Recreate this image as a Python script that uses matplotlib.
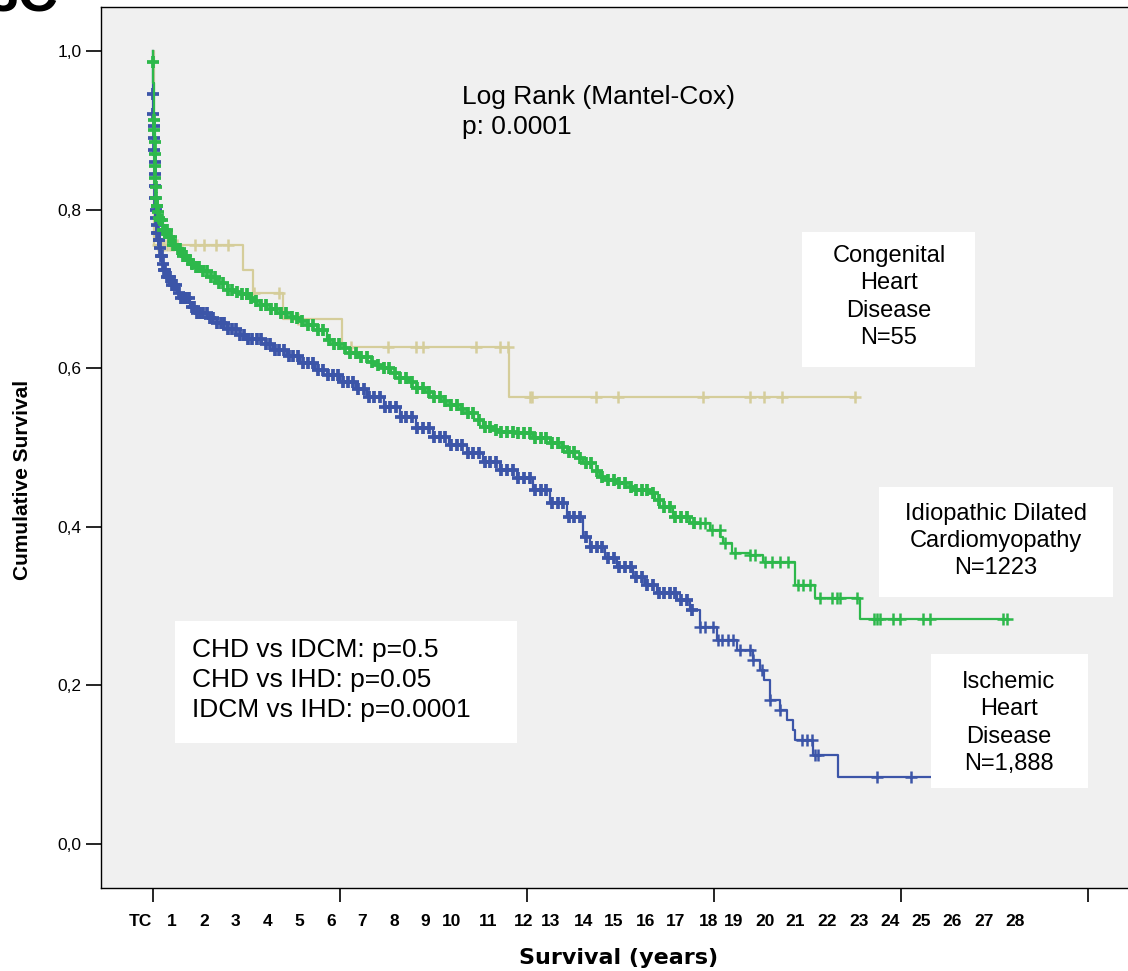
import numpy as np
import matplotlib
matplotlib.use('Agg')
import matplotlib.pyplot as plt
from matplotlib.patches import Rectangle
from matplotlib import font_manager

plt.rcParams['font.family'] = ['Liberation Sans', 'DejaVu Sans']

# Kaplan-Meier steps (years, cumulative survival)
ihd_t = [0, 0.008, 0.015, 0.02, 0.03, 0.04, 0.05, 0.06, 0.07, 0.08,
         0.09, 0.10, 0.12, 0.14, 0.18, 0.22, 0.26, 0.30, 0.36, 0.45,
         0.60, 0.77, 0.90, 1.19, 1.41, 1.73, 2.05, 2.37, 2.79, 3.02,
         3.50, 3.85, 4.30, 4.72, 5.20, 5.58, 6.00, 6.50, 6.87, 7.40,
         7.92, 8.45, 8.98, 9.50, 10.07, 10.60, 11.13, 11.68, 12.20, 12.74,
         13.28, 13.80, 14.02, 14.50, 14.89, 15.40, 15.80, 16.17, 16.81, 17.23,
         17.55, 18.10, 18.74, 19.25, 19.47, 19.60, 19.79, 20.12, 20.34, 20.53,
         20.60, 21.17, 21.98]
ihd_s = [1.0, 0.946, 0.92, 0.905, 0.89, 0.875, 0.86, 0.845, 0.83, 0.815,
         0.80, 0.79, 0.78, 0.77, 0.762, 0.752, 0.742, 0.732, 0.724, 0.715,
         0.705, 0.695, 0.688, 0.677, 0.670, 0.663, 0.657, 0.650, 0.642, 0.637,
         0.630, 0.623, 0.615, 0.607, 0.598, 0.591, 0.583, 0.574, 0.564, 0.551,
         0.538, 0.525, 0.513, 0.503, 0.493, 0.482, 0.472, 0.462, 0.447, 0.430,
         0.412, 0.387, 0.375, 0.361, 0.349, 0.337, 0.326, 0.317, 0.308, 0.295,
         0.274, 0.257, 0.245, 0.232, 0.219, 0.207, 0.182, 0.169, 0.156, 0.144,
         0.131, 0.112, 0.084]
ihd_end = 24.95
ihd_cens = [0.01, 0.015, 0.02, 0.03, 0.04, 0.05, 0.06, 0.07, 0.08, 0.09, 0.1,
            0.12, 0.14, 0.16, 0.18, 0.2, 0.23, 0.26, 0.29, 0.32, 0.36, 0.4, 0.45,
            0.5, 0.56, 0.62, 0.68, 0.75, 0.82, 0.9, 0.98, 1.06, 1.15, 1.24, 1.33,
            1.42, 1.52, 1.62, 1.72, 1.83, 1.94, 2.05, 2.17, 2.29, 2.41, 2.53,
            2.66, 2.79, 2.92, 3.05, 3.19, 3.33, 3.47, 3.61, 3.75, 3.9, 4.05, 4.2,
            4.35, 4.5, 4.65, 4.8, 4.96, 5.12, 5.28, 5.44, 5.6, 5.76, 5.92, 6.08,
            6.25, 6.42, 6.59, 6.76, 6.93, 7.1, 7.27, 7.44, 7.61, 7.78, 7.95, 8.12,
            8.3, 8.48, 8.66, 8.84, 9.02, 9.2, 9.38, 9.56, 9.74, 9.92, 10.1, 10.28,
            10.46, 10.64, 10.82, 11.0, 11.18, 11.36, 11.54, 11.72, 11.9, 12.08,
            12.26, 12.44, 12.62, 12.8, 12.98, 13.16, 13.34, 13.52, 13.7, 13.88,
            14.06, 14.24, 14.42, 14.6, 14.78, 14.96, 15.14, 15.32, 15.5, 15.68,
            15.86, 16.04, 16.22, 16.4, 16.58, 16.76, 16.94, 17.12, 17.3, 17.55,
            17.71, 17.97, 18.13, 18.26, 18.45, 18.61, 18.83, 19.15, 19.25, 19.54,
            19.79, 20.12, 20.82, 20.98, 21.14, 21.24, 21.33, 23.23, 24.32]

idcm_t = [0, 0.004, 0.012, 0.02, 0.03, 0.04, 0.05, 0.06, 0.07, 0.08,
          0.09, 0.10, 0.12, 0.15, 0.19, 0.225, 0.33, 0.45, 0.64, 0.77,
          0.90, 1.09, 1.19, 1.35, 1.51, 1.73, 2.05, 2.37, 2.60, 2.79,
          3.02, 3.20, 3.43, 3.66, 3.98, 4.30, 4.50, 4.72, 4.94, 5.26,
          5.58, 5.78, 6.00, 6.32, 6.60, 6.87, 7.10, 7.38, 7.65, 7.92,
          8.20, 8.47, 8.73, 8.98, 9.25, 9.53, 9.80, 10.07, 10.30, 10.59,
          10.85, 11.13, 11.68, 12.19, 12.74, 13.00, 13.28, 13.55, 13.80, 14.10,
          14.34, 14.60, 14.89, 15.15, 15.40, 15.95, 16.10, 16.27, 16.68, 17.23,
          17.87, 18.20, 18.29, 18.58, 19.15, 19.57, 20.60, 21.24, 22.68]
idcm_s = [1.0, 0.986, 0.96, 0.93, 0.913, 0.90, 0.885, 0.87, 0.855, 0.84,
          0.828, 0.815, 0.805, 0.797, 0.79, 0.787, 0.774, 0.765, 0.755, 0.750,
          0.742, 0.736, 0.731, 0.727, 0.722, 0.715, 0.707, 0.699, 0.696, 0.693,
          0.688, 0.685, 0.680, 0.675, 0.670, 0.665, 0.663, 0.660, 0.655, 0.648,
          0.636, 0.630, 0.625, 0.619, 0.614, 0.608, 0.604, 0.600, 0.594, 0.588,
          0.582, 0.575, 0.570, 0.564, 0.559, 0.554, 0.549, 0.543, 0.535, 0.526,
          0.522, 0.520, 0.518, 0.512, 0.506, 0.500, 0.494, 0.487, 0.480, 0.470,
          0.463, 0.459, 0.455, 0.450, 0.446, 0.443, 0.434, 0.425, 0.412, 0.405,
          0.396, 0.387, 0.380, 0.367, 0.364, 0.356, 0.327, 0.310, 0.284]
idcm_end = 27.4
idcm_cens = [0.004, 0.03, 0.04, 0.05, 0.06, 0.07, 0.08, 0.09, 0.1, 0.12, 0.14,
             0.17, 0.2, 0.24, 0.28, 0.33, 0.38, 0.44, 0.5, 0.57, 0.64, 0.72, 0.8,
             0.88, 0.97, 1.06, 1.16, 1.26, 1.37, 1.48, 1.6, 1.72, 1.85, 1.98,
             2.12, 2.26, 2.4, 2.55, 2.7, 2.85, 3.0, 3.16, 3.32, 3.48, 3.64, 3.8,
             3.96, 4.12, 4.28, 4.45, 4.62, 4.79, 4.96, 5.13, 5.3, 5.47, 5.64,
             5.81, 5.98, 6.15, 6.32, 6.5, 6.68, 6.86, 7.04, 7.22, 7.4, 7.58, 7.76,
             7.94, 8.12, 8.3, 8.48, 8.66, 8.84, 9.02, 9.2, 9.38, 9.56, 9.74, 9.92,
             10.1, 10.28, 10.46, 10.64, 10.82, 11.0, 11.18, 11.36, 11.54, 11.72,
             11.9, 12.08, 12.26, 12.44, 12.62, 12.8, 12.98, 13.16, 13.34, 13.52,
             13.7, 13.88, 14.06, 14.24, 14.42, 14.6, 14.78, 14.96, 15.14, 15.32,
             15.5, 15.68, 15.86, 16.04, 16.22, 16.4, 16.58, 16.76, 16.94, 17.12,
             17.35, 17.55, 17.71, 17.93, 18.19, 18.35, 18.67, 19.15, 19.31, 19.63,
             19.86, 20.12, 20.37, 20.69, 20.85, 21.08, 21.4, 21.78, 21.94, 22.04,
             22.59, 23.13, 23.23, 23.33, 23.74, 23.97, 24.7, 24.93, 27.27, 27.4]

chd_t = [0, 0.03, 2.89, 3.21, 4.17, 6.06, 11.42]
chd_s = [1.0, 0.755, 0.724, 0.695, 0.662, 0.627, 0.564]
chd_end = 22.52
chd_cens = [0.16, 0.22, 0.29, 0.35, 0.45, 0.55, 0.64, 0.77, 1.35, 1.64, 2.02,
            2.41, 3.24, 4.04, 4.65, 6.35, 7.54, 8.44, 8.66, 10.36, 11.13, 11.40,
            12.10, 12.16, 14.21, 14.92, 17.65, 19.15, 19.60, 20.18, 22.52]

xlab = ['TC'] + [str(k) for k in range(1, 29)]
xlab_pos = [-0.42, 0.61, 1.64, 2.63, 3.66, 4.68, 5.71, 6.70, 7.73, 8.72, 9.59,
            10.75, 11.90, 12.77, 13.80, 14.79, 15.79, 16.78, 17.81, 18.64, 19.64,
            20.60, 21.63, 22.65, 23.65, 24.64, 25.64, 26.66, 27.65]
yticks = [0.0, 0.2, 0.4, 0.6, 0.8, 1.0]
ylab = ['0,0', '0,2', '0,4', '0,6', '0,8', '1,0']

BLUE = '#3C55A8'
GREEN = '#2DB84B'
TAN = '#D5CD9A'

W, H = 1128, 971
fig = plt.figure(figsize=(W / 100, H / 100), dpi=100)
ax = fig.add_axes([101 / W, 1 - 888 / H, (1140 - 101) / W, (888 - 7) / H])
ax.set_facecolor('#F0F0F0')
ax.set_xlim((101 - 153) / 31.17, (1140 - 153) / 31.17)
ax.set_ylim(-0.0555, 1.0555)


def km(t, s, end, cens, color, z, dense_until):
    t = np.append(np.array(t, float), end)
    s = np.append(np.array(s, float), s[-1])
    ax.step(t, s, where='post', color=color, lw=1.6, zorder=z)
    c = np.array(cens)
    y = s[np.searchsorted(t, c, side='right') - 1]
    # crowded marks in the busy early part look like a solid band
    d = c < dense_until
    ax.plot(c[d], y[d], ls='none', marker='+', ms=8.5, mew=2.7, color=color, zorder=z)
    ax.plot(c[~d], y[~d], ls='none', marker='+', ms=8, mew=1.8, color=color, zorder=z)


km(chd_t, chd_s, chd_end, chd_cens, TAN, 1.8, 0)
km(ihd_t, ihd_s, ihd_end, ihd_cens, BLUE, 2.0, 17.4)
km(idcm_t, idcm_s, idcm_end, idcm_cens, GREEN, 2.1, 17.4)

ax.spines['right'].set_visible(False)
for sp in ['left', 'top', 'bottom']:
    ax.spines[sp].set_linewidth(1.0)

ax.set_xticks([0, 6, 12, 18, 24, 30], labels=[''] * 6)
ax.tick_params(axis='x', which='major', length=10, width=1.2, direction='out')
ax.set_xticks(xlab_pos, labels=xlab, minor=True)
ax.tick_params(axis='x', which='minor', length=0, pad=19, labelsize=12.5)
for lab in ax.get_xticklabels(minor=True):
    lab.set_fontweight('bold')
ax.set_yticks(yticks, labels=ylab)
ax.tick_params(axis='y', length=11, width=1.2, pad=3, labelsize=12.5)

names = {f.name for f in font_manager.fontManager.ttflist}
if 'Liberation Sans Narrow' in names:
    fig.text(23 / W, 1 - 480 / H, 'Cumulative Survival', rotation=90, ha='center',
             va='center', fontsize=17, fontweight='bold', family='Liberation Sans Narrow')
else:
    fig.text(23 / W, 1 - 480 / H, 'Cumulative Survival', rotation=90, ha='center',
             va='center', fontsize=15, fontweight='bold')
fig.text(619 / W, 1 - 958 / H, 'Survival (years)', ha='center', va='center',
         fontsize=16, fontweight='bold', family='DejaVu Sans')

# panel letter cut off at the top-left corner
fig.text(-12 / W, 1 - 12 / H, '3C', fontsize=40, fontweight='bold', va='baseline')


def box(x0, y0, x1, y1):
    fig.add_artist(Rectangle((x0 / W, 1 - y1 / H), (x1 - x0) / W, (y1 - y0) / H,
                             transform=fig.transFigure, facecolor='white',
                             edgecolor='none', zorder=3))


box(802, 232, 975, 367)
box(879, 487, 1113, 597)
box(931, 654, 1088, 788)
box(175, 621, 517, 743)

fig.text(462 / W, 1 - 112 / H, 'Log Rank (Mantel-Cox)\np: 0.0001', ha='left',
         va='center', fontsize=19, linespacing=1.3, zorder=4)
fig.text(889 / W, 1 - 297 / H, 'Congenital\nHeart\nDisease\nN=55', ha='center',
         va='center', ma='center', fontsize=17, linespacing=1.3, zorder=4)
fig.text(996 / W, 1 - 541 / H, 'Idiopathic Dilated\nCardiomyopathy\nN=1223',
         ha='center', va='center', ma='center', fontsize=17, linespacing=1.3, zorder=4)
fig.text(1009 / W, 1 - 723 / H, 'Ischemic\nHeart\nDisease\nN=1,888', ha='center',
         va='center', ma='center', fontsize=17, linespacing=1.3, zorder=4)
fig.text(192 / W, 1 - 680 / H,
         'CHD vs IDCM: p=0.5\nCHD vs IHD: p=0.05\nIDCM vs IHD: p=0.0001',
         ha='left', va='center', fontsize=19, linespacing=1.3, zorder=4)

fig.savefig('out.png', dpi=100)
